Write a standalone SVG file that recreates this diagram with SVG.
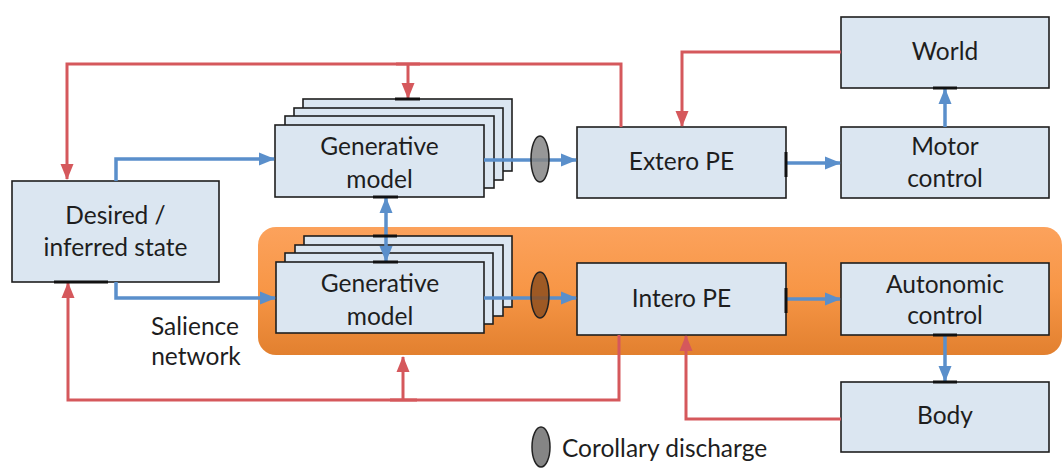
<svg xmlns="http://www.w3.org/2000/svg" width="1062" height="468" viewBox="0 0 1062 468">
<style>
.box{fill:#DBE6F1;stroke:#1e1e1e;stroke-width:1.6}
.t{font-family:Lato,"Liberation Sans",sans-serif;font-size:24.5px;fill:#1e1e1e;text-anchor:middle}
.red{fill:none;stroke:#D5585C;stroke-width:3}
.blue{fill:none;stroke:#5A8FCB;stroke-width:3.5}
.tick{stroke:#111;stroke-width:3}
</style>
<defs>
<linearGradient id="og" x1="0" y1="0" x2="0" y2="1">
<stop offset="0" stop-color="#FCA25C"/>
<stop offset="0.5" stop-color="#F79646"/>
<stop offset="1" stop-color="#E2802F"/>
</linearGradient>
<marker id="ar" markerUnits="userSpaceOnUse" markerWidth="16" markerHeight="16" refX="15" refY="8" orient="auto">
<path d="M0,1.5 L16,8 L0,14.5 Z" fill="#D5585C"/>
</marker>
<marker id="ab" markerUnits="userSpaceOnUse" markerWidth="16" markerHeight="16" refX="15" refY="8" orient="auto-start-reverse">
<path d="M0,1.5 L16,8 L0,14.5 Z" fill="#5A8FCB"/>
</marker>
</defs>
<rect id="salience-network-bg" x="258" y="227" width="804" height="128" rx="18" fill="url(#og)"/>
<g id="desired-state">
<rect class="box" x="12" y="181" width="207" height="101"/>
<text class="t" x="115.5" y="224">Desired /</text>
<text class="t" x="115.5" y="256">inferred state</text>
</g>
<g id="generative-model-extero">
<rect class="box" x="303" y="99" width="209" height="72"/>
<rect class="box" x="294" y="108" width="209" height="72"/>
<rect class="box" x="285" y="116" width="209" height="72"/>
<rect class="box" x="275" y="125" width="209" height="72"/>
<text class="t" x="379.5" y="155">Generative</text>
<text class="t" x="379.5" y="188">model</text>
</g>
<g id="generative-model-intero">
<rect class="box" x="304" y="236" width="208" height="71"/>
<rect class="box" x="295" y="245" width="208" height="71"/>
<rect class="box" x="285" y="253" width="208" height="71"/>
<rect class="box" x="276" y="262" width="208" height="71"/>
<text class="t" x="380" y="292">Generative</text>
<text class="t" x="380" y="325">model</text>
</g>
<g id="extero-pe">
<rect class="box" x="577" y="127" width="209" height="71"/>
<text class="t" x="681.5" y="170">Extero PE</text>
</g>
<g id="intero-pe">
<rect class="box" x="577" y="263" width="209" height="72"/>
<text class="t" x="681.5" y="307">Intero PE</text>
</g>
<g id="motor-control">
<rect class="box" x="841" y="127" width="208" height="71"/>
<text class="t" x="945" y="155">Motor</text>
<text class="t" x="945" y="187">control</text>
</g>
<g id="autonomic-control">
<rect class="box" x="841" y="263" width="208" height="72"/>
<text class="t" x="945" y="293">Autonomic</text>
<text class="t" x="945" y="324">control</text>
</g>
<g id="world">
<rect class="box" x="841" y="17" width="208" height="71"/>
<text class="t" x="945" y="60">World</text>
</g>
<g id="body">
<rect class="box" x="841" y="382" width="208" height="70"/>
<text class="t" x="945" y="424">Body</text>
</g>
<g id="salience-label">
<text class="t" x="195" y="335">Salience</text>
<text class="t" x="196" y="365">network</text>
</g>
<g id="connectors">
<path class="red" d="M621,127 V64 H67 V179" marker-end="url(#ar)"/>
<path class="red" d="M396,64 H420" stroke-width="5"/>
<path class="red" d="M408,64 V98" marker-end="url(#ar)"/>
<path class="red" d="M841,52 H682 V126" marker-end="url(#ar)"/>
<path class="red" d="M619,335 V400 H68 V283" marker-end="url(#ar)"/>
<path class="red" d="M390,400 H417" stroke-width="5"/>
<path class="red" d="M403,400 V357" marker-end="url(#ar)"/>
<path class="red" d="M841,419 H686 V336" marker-end="url(#ar)"/>
<path class="blue" d="M116,181 V159 H274" marker-end="url(#ab)"/>
<path class="blue" d="M116,282 V298 H275" marker-end="url(#ab)"/>
<path class="blue" d="M484,160 H576" marker-end="url(#ab)"/>
<path class="blue" d="M484,298 H576" marker-end="url(#ab)"/>
<path class="blue" d="M786,163 H840" marker-end="url(#ab)"/>
<path class="blue" d="M786,299 H840" marker-end="url(#ab)"/>
<path class="blue" d="M945,127 V89" marker-end="url(#ab)"/>
<path class="blue" d="M945,335 V381" marker-end="url(#ab)"/>
<path class="blue" d="M386,198 V261" marker-start="url(#ab)" marker-end="url(#ab)"/>
<line class="tick" x1="54" y1="282" x2="108" y2="282"/>
<line class="tick" x1="395" y1="99" x2="420" y2="99"/>
<line class="tick" x1="373" y1="197" x2="398" y2="197"/>
<line class="tick" x1="373" y1="236" x2="397" y2="236"/>
<line class="tick" x1="373" y1="262" x2="398" y2="262"/>
<line class="tick" x1="786" y1="152" x2="786" y2="177"/>
<line class="tick" x1="786" y1="288" x2="786" y2="313"/>
<line class="tick" x1="933" y1="88" x2="957" y2="88"/>
<line class="tick" x1="933" y1="335" x2="957" y2="335"/>
<line class="tick" x1="933" y1="382" x2="957" y2="382"/>
</g>
<g id="corollary-discharge-extero">
<ellipse cx="540" cy="159" rx="9" ry="23" fill="#858585" fill-opacity="0.85" stroke="#222" stroke-width="1.5"/>
</g>
<g id="corollary-discharge-intero">
<ellipse cx="540" cy="295" rx="9" ry="23" fill="#8E4F1E" fill-opacity="0.85" stroke="#222" stroke-width="1.5"/>
</g>
<g id="legend">
<ellipse cx="541" cy="447" rx="9" ry="20" fill="#858585" stroke="#222" stroke-width="1.5"/>
<text class="t" x="562" y="457" style="text-anchor:start">Corollary discharge</text>
</g>
</svg>
